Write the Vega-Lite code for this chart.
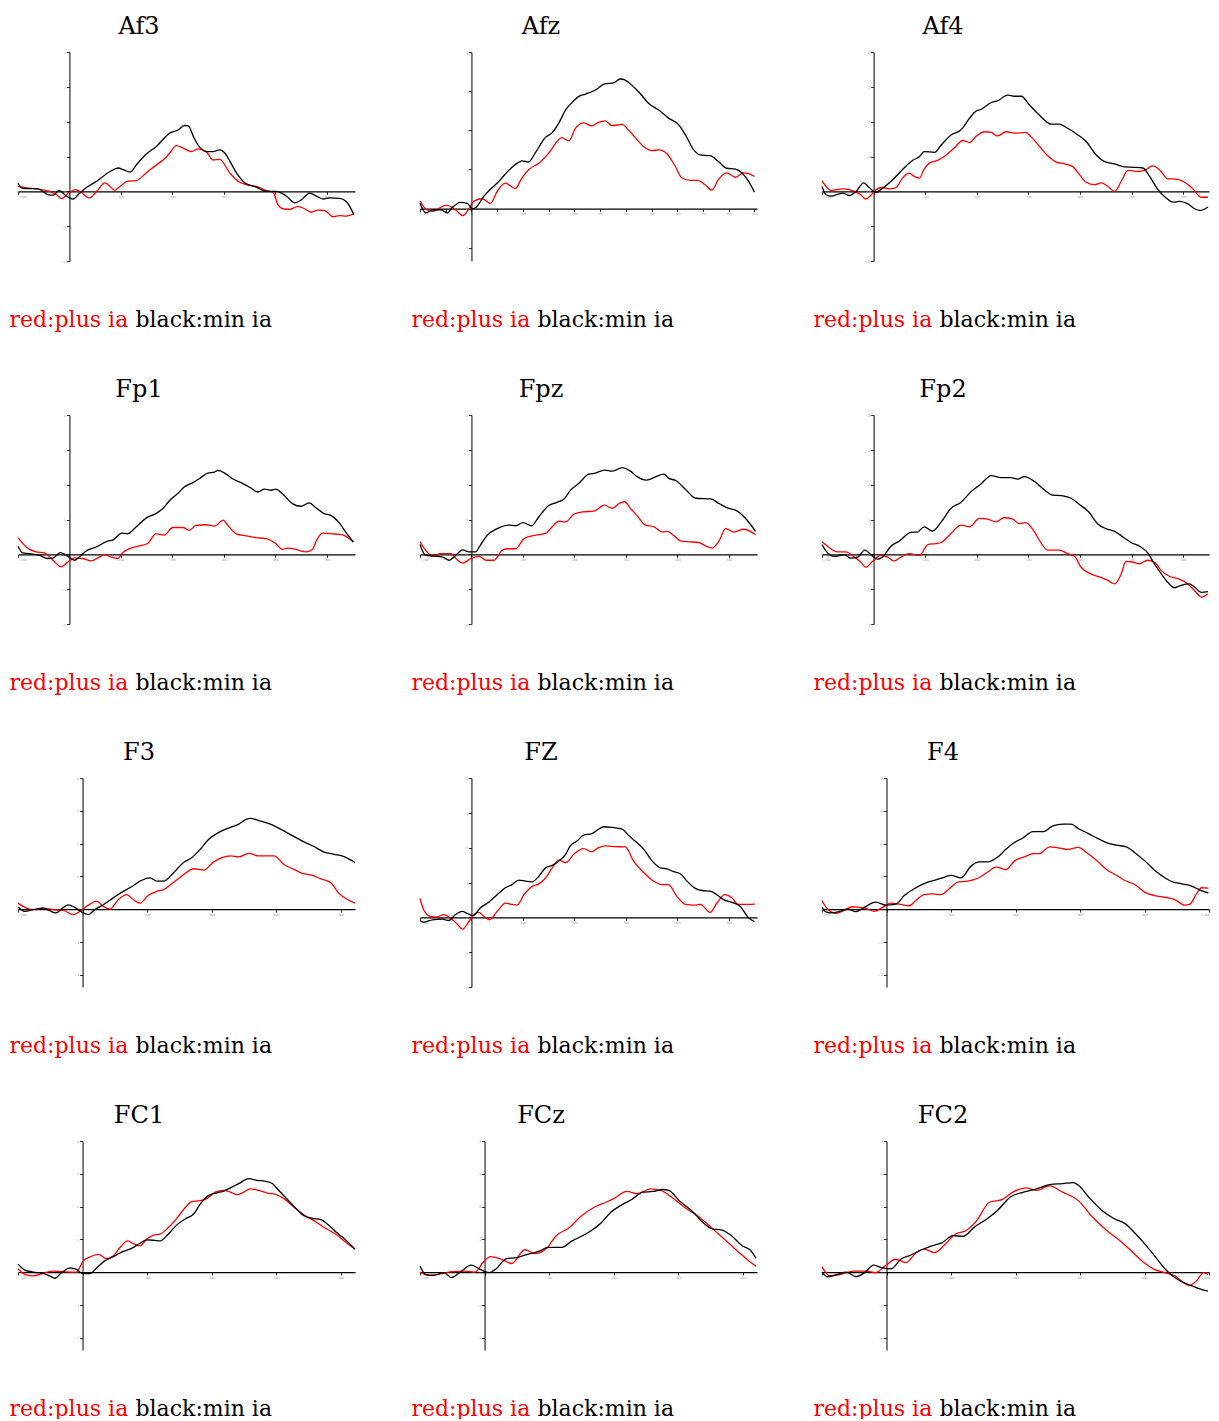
{
"$schema": "https://vega.github.io/schema/vega-lite/v6.json",
"padding": {"left": 9, "top": 15, "right": 0, "bottom": 0},
"background": "white",
"config": {
  "view": {"stroke": null},
  "title": {"anchor": "middle", "frame": "group", "dx": -47.5, "offset": 12, "baseline": "alphabetic", "font": "DejaVu Serif", "fontSize": 24, "fontWeight": "normal", "color": "#000"},
  "axis": {"grid": false, "domainColor": "#000", "tickColor": "#000", "tickSize": 3, "tickWidth": 0.8, "labelFontSize": 3, "labelColor": "#999", "labelPadding": 1, "labelFont": "DejaVu Sans",
           "titleFont": "DejaVu Serif", "titleFontSize": 22, "titleFontWeight": "normal", "titleAngle": 0, "titleAlign": "left", "titleBaseline": "alphabetic"},
  "axisX": {"domainWidth": 1.3, "titleColor": "#ff0000", "titleX": -9},
  "axisY": {"domainWidth": 1, "titleColor": "#000000", "titleY": 274},
  "legend": {"orient": "top-right", "offset": 3, "symbolType": "stroke", "symbolSize": 49, "symbolStrokeWidth": 1.5, "labelFontSize": 3, "labelColor": "#777", "padding": 0, "rowPadding": -3, "labelOffset": 1},
  "line": {"interpolate": "monotone", "strokeWidth": 1.3}
},
"data": {"values": [
{"ch":"Af3","c":"min ia","t":[-100,-93,-83,-61,-41,-31,-20,-9,7,20,33,53,79,95,105,118,130,150,169,195,211,224,231,241,250,266,279,292,302,312,325,341,363,383,402,422,438,451,467,480,493,506,525,538,553],"v":[0.24,0.1,0.08,0.07,-0.10,-0.11,0.03,-0.10,-0.22,-0.05,0.11,0.29,0.57,0.67,0.62,0.55,0.76,1.08,1.29,1.67,1.76,1.89,1.88,1.57,1.33,1.14,1.14,1.19,1.10,0.86,0.52,0.24,0.12,0,0,-0.14,-0.33,-0.24,-0.05,-0.14,-0.22,-0.19,-0.20,-0.29,-0.67]},
{"ch":"Af3","c":"plus ia","t":[-100,-83,-64,-38,-25,-15,-2,11,20,39,53,69,79,88,98,114,130,150,169,182,195,208,221,237,250,266,279,292,312,331,344,363,383,396,405,415,428,444,457,470,483,496,512,525,538,553],"v":[0.14,0.10,0.07,0,-0.10,-0.21,-0.05,0.05,0,-0.19,0,0.24,0.14,0.03,0.14,0.29,0.31,0.54,0.76,0.90,1.10,1.31,1.24,1.14,1.22,1.14,0.90,0.92,0.52,0.26,0.19,0.14,0.02,-0.03,-0.38,-0.50,-0.52,-0.43,-0.50,-0.60,-0.54,-0.55,-0.73,-0.70,-0.71,-0.65]},
{"ch":"Afz","c":"min ia","t":[-100,-89,-76,-60,-47,-38,-21,-8,3,11,24,40,53,72,89,98,111,124,144,157,170,183,195,208,221,241,260,276,289,299,312,328,344,364,383,403,416,432,445,464,480,496,513,526,539,550],"v":[0.14,-0.11,-0.04,-0.03,-0.11,0.02,0.16,0.13,-0.01,0.06,0.31,0.53,0.69,0.97,1.16,1.22,1.19,1.42,1.82,1.94,2.19,2.52,2.70,2.86,2.92,3.03,3.19,3.21,3.31,3.28,3.15,2.94,2.69,2.52,2.31,2.14,1.88,1.50,1.37,1.35,1.20,1.03,1.01,0.91,0.69,0.42]},
{"ch":"Afz","c":"plus ia","t":[-100,-89,-76,-50,-38,-28,-17,-5,5,21,37,50,66,85,98,111,131,153,166,176,189,202,218,234,247,260,273,293,305,318,335,351,364,380,396,409,425,441,454,467,480,496,513,529,539,550],"v":[0.20,-0.01,-0.07,0.08,0.04,-0.07,-0.18,-0.01,0.19,0.25,0.13,0.44,0.65,0.51,0.78,0.99,1.16,1.46,1.71,1.81,1.73,2.05,2.19,2.11,2.20,2.24,2.12,2.15,2.01,1.82,1.58,1.48,1.50,1.40,1.08,0.78,0.72,0.72,0.61,0.47,0.74,0.91,0.80,0.91,0.89,0.82]},
{"ch":"Af4","c":"min ia","t":[-100,-92,-83,-60,-47,-34,-19,-8,5,14,37,59,76,89,98,118,131,150,169,186,198,208,228,240,260,273,286,302,321,344,360,376,396,412,431,447,467,486,505,522,535,551,567,580,593,609,622,633,648],"v":[0.14,-0.10,-0.14,-0.05,-0.12,0,0.24,0.10,-0.03,0.05,0.33,0.67,0.89,1.00,1.14,1.12,1.33,1.62,1.76,2.10,2.30,2.35,2.55,2.60,2.76,2.73,2.73,2.48,2.19,1.93,1.93,1.81,1.62,1.43,1.05,0.86,0.79,0.70,0.69,0.67,0.43,0.05,-0.19,-0.31,-0.29,-0.36,-0.50,-0.55,-0.45]},
{"ch":"Af4","c":"plus ia","t":[-100,-92,-83,-60,-37,-25,-15,-5,5,17,30,43,56,69,79,89,98,108,124,137,156,173,186,198,215,228,240,257,273,295,305,321,337,354,370,386,399,412,428,441,454,467,480,493,512,525,541,554,570,586,603,619,635,648],"v":[0.31,0.14,0.03,0.07,0,-0.10,-0.22,-0.11,0.05,0.11,0.07,0.10,0.38,0.52,0.43,0.38,0.64,0.81,0.89,1.00,1.24,1.46,1.40,1.57,1.71,1.69,1.59,1.71,1.67,1.69,1.57,1.30,1.03,0.84,0.79,0.71,0.48,0.26,0.19,0.24,0.14,0,0.29,0.60,0.57,0.60,0.73,0.62,0.36,0.35,0.26,0.07,-0.17,-0.17]},
{"ch":"Fp1","c":"min ia","t":[-100,-91,-78,-58,-42,-32,-18,-6,10,19,32,52,74,84,102,113,129,149,168,181,197,210,223,240,252,269,282,288,301,317,337,353,366,379,392,401,414,434,450,466,479,495,508,524,537,552],"v":[0.23,0.04,0.02,-0.03,-0.12,-0.11,0.05,-0.03,-0.17,-0.08,0.09,0.21,0.38,0.41,0.61,0.59,0.78,1.04,1.17,1.31,1.58,1.74,1.93,2.06,2.17,2.33,2.36,2.41,2.34,2.17,2.03,1.90,1.79,1.87,1.84,1.87,1.74,1.45,1.38,1.48,1.34,1.17,1.12,0.91,0.64,0.35]},
{"ch":"Fp1","c":"plus ia","t":[-100,-84,-65,-49,-32,-16,-3,10,26,42,58,68,81,94,104,120,136,152,168,184,201,220,233,246,265,282,299,307,324,343,362,382,401,414,424,440,460,472,482,492,511,531,552],"v":[0.48,0.21,0.07,0.04,-0.17,-0.36,-0.22,-0.10,-0.12,-0.19,-0.08,-0.01,-0.08,-0.12,0.05,0.18,0.24,0.31,0.59,0.55,0.77,0.77,0.69,0.83,0.85,0.81,0.98,0.85,0.59,0.53,0.48,0.45,0.31,0.14,0.18,0.14,0.07,0.14,0.45,0.61,0.59,0.56,0.35]},
{"ch":"Fpz","c":"min ia","t":[-100,-89,-72,-56,-43,-34,-17,-5,8,18,31,50,73,86,100,117,131,151,164,180,193,209,228,241,258,274,293,309,322,340,359,374,384,397,417,436,465,481,500,513,533,552],"v":[0.28,-0.03,-0.05,-0.08,-0.17,-0.08,0.13,0.07,0.07,0.28,0.55,0.74,0.84,0.82,0.91,0.82,1.08,1.41,1.48,1.59,1.85,2.04,2.30,2.33,2.42,2.39,2.49,2.39,2.23,2.13,2.23,2.30,2.18,2.12,1.85,1.61,1.59,1.46,1.32,1.27,1.03,0.66]},
{"ch":"Fpz","c":"plus ia","t":[-100,-89,-76,-60,-40,-30,-17,-1,15,28,44,60,73,86,102,118,144,157,170,183,199,216,238,258,274,287,298,309,322,338,355,371,381,394,407,423,442,455,468,481,494,510,529,552],"v":[0.36,0.12,-0.05,0.02,0.02,-0.12,-0.25,-0.12,-0.06,-0.17,-0.17,0.12,0.16,0.16,0.45,0.53,0.60,0.79,0.95,0.93,1.15,1.22,1.24,1.41,1.32,1.46,1.51,1.32,1.11,0.84,0.79,0.64,0.66,0.53,0.38,0.36,0.34,0.24,0.18,0.38,0.74,0.64,0.72,0.57]},
{"ch":"Fp2","c":"min ia","t":[-100,-92,-76,-57,-44,-31,-17,-5,8,17,34,50,72,85,98,114,131,150,169,189,208,228,247,266,279,292,312,331,347,367,383,399,418,434,450,467,486,499,518,531,544,560,573,583,596,612,622,635,648],"v":[0.28,0.09,-0.06,-0.01,-0.11,-0.08,0.12,-0.01,-0.14,-0.08,0.24,0.38,0.63,0.64,0.79,0.67,0.93,1.32,1.49,1.80,2.02,2.26,2.20,2.20,2.16,2.23,2.09,1.85,1.70,1.68,1.61,1.43,1.20,0.88,0.74,0.66,0.47,0.34,0.21,0.05,-0.27,-0.61,-0.85,-0.96,-0.89,-0.85,-0.94,-1.09,-1.07]},
{"ch":"Fp2","c":"plus ia","t":[-100,-89,-70,-54,-37,-25,-15,-2,14,27,40,53,69,89,105,121,131,150,169,186,205,221,237,253,270,282,295,312,324,337,360,376,389,402,421,438,454,467,480,489,502,515,531,544,557,573,590,609,625,635,648],"v":[0.36,0.23,0.07,0.07,-0.08,-0.22,-0.37,-0.20,-0.03,-0.08,-0.19,-0.08,0.02,-0.03,0.28,0.31,0.34,0.60,0.84,0.79,1.03,1.01,0.93,1.05,1.01,0.88,0.91,0.64,0.34,0.12,0.12,0.02,-0.05,-0.37,-0.56,-0.65,-0.75,-0.85,-0.56,-0.20,-0.22,-0.27,-0.17,-0.22,-0.46,-0.63,-0.70,-0.85,-1.09,-1.23,-1.13]},
{"ch":"F3","c":"min ia","t":[-200,-179,-153,-122,-102,-83,-65,-45,-24,2,18,38,64,95,126,152,178,209,230,251,282,313,339,365,391,422,458,484,505,520,546,582,613,650,686,717,748,779,810,844],"v":[0.06,-0.07,-0.02,0.03,-0.05,-0.12,0,0.13,0.05,-0.12,-0.17,-0.02,0.13,0.34,0.54,0.68,0.85,0.95,0.85,0.85,1.11,1.42,1.57,1.83,2.13,2.34,2.49,2.59,2.73,2.77,2.70,2.59,2.44,2.24,2.05,1.91,1.74,1.67,1.60,1.42]},
{"ch":"F3","c":"plus ia","t":[-200,-174,-148,-122,-91,-60,-29,2,23,44,64,85,111,137,157,178,204,230,251,277,308,344,375,406,432,458,484,515,546,593,624,655,681,712,738,769,795,821,844],"v":[0.18,0.03,-0.02,0.03,-0.02,-0.04,-0.17,0.01,0.15,0.24,0.08,0,0.29,0.44,0.29,0.18,0.42,0.54,0.59,0.78,1.01,1.23,1.19,1.44,1.57,1.62,1.59,1.70,1.62,1.62,1.36,1.21,1.09,1.03,0.92,0.80,0.47,0.29,0.18]},
{"ch":"FZ","c":"min ia","t":[-100,-93,-76,-57,-44,-31,-18,-8,3,17,34,50,66,79,92,105,118,131,144,157,170,183,192,205,218,234,247,257,273,293,305,318,335,351,367,380,393,406,419,435,448,464,477,490,506,522,539,550],"v":[-0.09,-0.14,-0.07,-0.05,-0.09,0.08,0.17,0.11,0.05,0.27,0.44,0.65,0.85,0.94,1.07,1.04,1.02,1.18,1.42,1.49,1.62,1.81,2.05,2.19,2.36,2.40,2.53,2.60,2.58,2.53,2.36,2.19,1.95,1.62,1.42,1.39,1.31,1.25,1.04,0.83,0.77,0.75,0.65,0.51,0.43,0.32,-0.02,-0.12]},
{"ch":"FZ","c":"plus ia","t":[-100,-93,-80,-67,-54,-41,-28,-17,-5,5,14,24,35,50,66,79,89,102,118,131,144,157,170,183,199,218,234,247,260,280,299,315,335,354,370,383,399,416,432,445,464,477,493,506,519,535,551],"v":[0.54,0.22,0.03,0.01,0.08,-0.02,-0.19,-0.34,-0.12,0.08,0.14,0.03,-0.07,0.17,0.41,0.37,0.35,0.65,0.89,0.96,1.13,1.42,1.64,1.57,1.81,1.97,1.88,2.00,2.05,2.03,2.02,1.62,1.28,1.04,0.94,0.94,0.61,0.37,0.35,0.37,0.14,0.41,0.65,0.56,0.37,0.37,0.38]},
{"ch":"F4","c":"min ia","t":[-200,-189,-173,-147,-121,-95,-69,-33,-2,29,55,86,122,153,179,200,231,262,288,314,345,371,392,423,454,485,516,547,573,594,625,656,682,713,744,770,801,832,858,884,915,946,972,998],"v":[0.05,-0.08,-0.12,-0.08,0,-0.08,0.05,0.21,0.12,0.15,0.41,0.62,0.80,0.89,0.97,1.03,0.95,1.31,1.44,1.44,1.59,1.83,2.00,2.17,2.36,2.36,2.54,2.59,2.59,2.46,2.31,2.15,2.03,1.95,1.90,1.72,1.47,1.18,0.99,0.84,0.77,0.70,0.58,0.49]},
{"ch":"F4","c":"plus ia","t":[-200,-183,-157,-132,-106,-85,-64,-38,-12,13,39,70,91,117,143,169,195,221,252,283,314,340,371,397,428,454,474,506,532,563,594,625,651,682,713,739,770,801,832,863,894,925,941,961,977,998],"v":[0.26,0,-0.13,-0.05,0.07,0.05,0.02,-0.07,0.05,0.18,0.15,0.10,0.26,0.44,0.46,0.44,0.62,0.82,0.85,0.94,1.13,1.28,1.20,1.47,1.59,1.69,1.69,1.90,1.87,1.82,1.88,1.69,1.49,1.21,1.03,0.87,0.75,0.51,0.41,0.36,0.29,0.12,0.15,0.46,0.65,0.64]},
{"ch":"FC1","c":"min ia","t":[-200,-179,-153,-122,-102,-86,-65,-39,-19,2,23,44,69,95,126,152,178,199,220,240,266,292,318,344,365,391,417,437,458,484,515,541,567,588,608,634,660,686,712,738,764,789,815,844],"v":[0.24,0.06,0,-0.04,-0.12,-0.19,-0.02,0.13,0.08,-0.05,-0.05,0.13,0.34,0.47,0.63,0.72,0.88,0.98,0.97,0.95,1.16,1.44,1.62,1.77,2.08,2.34,2.42,2.47,2.57,2.70,2.85,2.80,2.77,2.70,2.49,2.22,1.95,1.72,1.64,1.60,1.42,1.19,0.98,0.70]},
{"ch":"FC1","c":"plus ia","t":[-200,-179,-153,-122,-91,-65,-39,-19,2,23,49,75,95,116,140,157,178,199,220,240,266,292,313,339,365,385,411,437,458,479,499,520,546,572,598,624,655,686,717,748,779,810,844],"v":[0.10,-0.07,-0.12,-0.04,0.03,0.01,0,0,0.34,0.46,0.54,0.41,0.49,0.75,0.95,0.87,0.80,1.01,1.13,1.16,1.36,1.64,1.91,2.15,2.18,2.24,2.44,2.49,2.44,2.36,2.44,2.54,2.49,2.41,2.37,2.24,1.98,1.74,1.57,1.36,1.19,0.95,0.70]},
{"ch":"FCz","c":"min ia","t":[-200,-183,-159,-126,-102,-78,-41,-13,15,36,68,100,133,165,198,238,271,319,360,392,425,457,490,522,551,571,603,644,676,708,733,765,798,822,841],"v":[0.18,-0.07,-0.10,-0.02,-0.17,-0.02,0.21,0.08,-0.02,0.10,0.41,0.44,0.54,0.62,0.75,0.75,0.95,1.19,1.49,1.83,2.05,2.22,2.44,2.46,2.52,2.49,2.18,1.85,1.52,1.31,1.29,1.11,0.80,0.68,0.42]},
{"ch":"FCz","c":"plus ia","t":[-200,-175,-143,-102,-62,-29,-5,19,52,84,125,157,190,222,263,295,344,376,400,441,473,514,546,579,619,660,708,749,789,819,841],"v":[0,-0.10,-0.07,0.01,0.03,0,0.29,0.47,0.39,0.26,0.68,0.56,0.70,1.11,1.36,1.67,2.00,2.13,2.24,2.46,2.39,2.54,2.49,2.29,1.98,1.72,1.31,0.95,0.59,0.34,0.18]},
{"ch":"FC2","c":"min ia","t":[-200,-183,-151,-126,-94,-62,-41,-13,15,44,76,109,141,173,206,238,271,311,344,384,425,465,506,546,579,595,627,668,708,741,773,806,838,870,903,943,976,997],"v":[0,-0.14,-0.07,0,-0.14,0.03,0.21,0.13,0.10,0.39,0.52,0.68,0.80,0.90,1.11,1.09,1.36,1.62,1.88,2.29,2.44,2.54,2.67,2.70,2.73,2.65,2.29,1.88,1.62,1.47,1.16,0.80,0.41,0.03,-0.23,-0.41,-0.53,-0.58]},
{"ch":"FC2","c":"plus ia","t":[-200,-175,-143,-102,-62,-34,-5,28,60,92,117,149,182,214,246,279,319,360,392,433,465,506,546,595,635,684,725,765,798,830,863,895,919,939,960,984,997],"v":[0.16,-0.12,-0.07,0.03,0.03,-0.02,0.18,0.39,0.29,0.59,0.70,0.59,0.85,1.16,1.26,1.56,2.13,2.22,2.44,2.57,2.49,2.63,2.44,2.18,1.72,1.26,0.95,0.59,0.29,0.08,-0.02,-0.12,-0.31,-0.41,-0.28,-0.02,-0.07]}
]},
"bounds": "flush",
"columns": 3,
"spacing": {"row": 154, "column": 65},
"concat": [
 {"width": 337, "height": 209, "title": "Af3",
  "encoding": {"x": {"field": "t", "type": "quantitative", "scale": {"domain": [-100, 555], "nice": false, "zero": false}, "axis": {"offset": -69.67, "values": [-100, 0, 100, 200, 300, 400, 500], "title": "red:plus ia", "titleY": 134.67}},
               "y": {"field": "v", "type": "quantitative", "scale": {"domain": [-2, 4], "nice": false, "zero": false}, "axis": {"offset": -51.45, "values": [-2, -1, 0, 1, 2, 3, 4], "title": "black:min ia", "titleX": 65.55}},
               "color": {"field": "c", "type": "nominal", "scale": {"domain": ["plus ia", "min ia"], "range": ["#ff0000", "#000000"]}, "legend": null}},
  "layer": [
   {"transform": [{"filter": "datum.ch === 'Af3' && datum.c === 'plus ia'"}, {"flatten": ["t", "v"]}], "mark": "line"},
   {"transform": [{"filter": "datum.ch === 'Af3' && datum.c === 'min ia'"}, {"flatten": ["t", "v"]}], "mark": "line"}
  ]},
 {"width": 337, "height": 209, "title": "Afz",
  "encoding": {"x": {"field": "t", "type": "quantitative", "scale": {"domain": [-100, 555], "nice": false, "zero": false}, "axis": {"offset": -52.45, "values": [-100, -50, 0, 50, 100, 150, 200, 250, 300, 350, 400, 450, 500, 550], "title": "red:plus ia", "titleY": 117.45}},
               "y": {"field": "v", "type": "quantitative", "scale": {"domain": [-1.34, 4], "nice": false, "zero": false}, "axis": {"offset": -51.45, "values": [-1, 0, 1, 2, 3, 4], "title": "black:min ia", "titleX": 65.55}},
               "color": {"field": "c", "type": "nominal", "scale": {"domain": ["plus ia", "min ia"], "range": ["#ff0000", "#000000"]}, "legend": null}},
  "layer": [
   {"transform": [{"filter": "datum.ch === 'Afz' && datum.c === 'plus ia'"}, {"flatten": ["t", "v"]}], "mark": "line"},
   {"transform": [{"filter": "datum.ch === 'Afz' && datum.c === 'min ia'"}, {"flatten": ["t", "v"]}], "mark": "line"}
  ]},
 {"width": 387, "height": 209, "title": {"text": "Af4", "dx": -72.5},
  "encoding": {"x": {"field": "t", "type": "quantitative", "scale": {"domain": [-100, 650], "nice": false, "zero": false}, "axis": {"offset": -69.67, "values": [-100, 0, 100, 200, 300, 400, 500, 600], "title": "red:plus ia", "titleY": 134.67}},
               "y": {"field": "v", "type": "quantitative", "scale": {"domain": [-2, 4], "nice": false, "zero": false}, "axis": {"offset": -51.6, "values": [-2, -1, 0, 1, 2, 3, 4], "title": "black:min ia", "titleX": 65.4}},
               "color": {"field": "c", "type": "nominal", "scale": {"domain": ["plus ia", "min ia"], "range": ["#ff0000", "#000000"]}, "legend": {"title": null}}},
  "layer": [
   {"transform": [{"filter": "datum.ch === 'Af4' && datum.c === 'plus ia'"}, {"flatten": ["t", "v"]}], "mark": "line"},
   {"transform": [{"filter": "datum.ch === 'Af4' && datum.c === 'min ia'"}, {"flatten": ["t", "v"]}], "mark": "line"}
  ]},
 {"width": 337, "height": 209, "title": "Fp1",
  "encoding": {"x": {"field": "t", "type": "quantitative", "scale": {"domain": [-100, 555], "nice": false, "zero": false}, "axis": {"offset": -69.67, "values": [-100, 0, 100, 200, 300, 400, 500], "title": "red:plus ia", "titleY": 134.67}},
               "y": {"field": "v", "type": "quantitative", "scale": {"domain": [-2, 4], "nice": false, "zero": false}, "axis": {"offset": -51.45, "values": [-2, -1, 0, 1, 2, 3, 4], "title": "black:min ia", "titleX": 65.55}},
               "color": {"field": "c", "type": "nominal", "scale": {"domain": ["plus ia", "min ia"], "range": ["#ff0000", "#000000"]}, "legend": null}},
  "layer": [
   {"transform": [{"filter": "datum.ch === 'Fp1' && datum.c === 'plus ia'"}, {"flatten": ["t", "v"]}], "mark": "line"},
   {"transform": [{"filter": "datum.ch === 'Fp1' && datum.c === 'min ia'"}, {"flatten": ["t", "v"]}], "mark": "line"}
  ]},
 {"width": 337, "height": 209, "title": "Fpz",
  "encoding": {"x": {"field": "t", "type": "quantitative", "scale": {"domain": [-100, 555], "nice": false, "zero": false}, "axis": {"offset": -69.67, "values": [-100, 0, 100, 200, 300, 400, 500], "title": "red:plus ia", "titleY": 134.67}},
               "y": {"field": "v", "type": "quantitative", "scale": {"domain": [-2, 4], "nice": false, "zero": false}, "axis": {"offset": -51.45, "values": [-2, -1, 0, 1, 2, 3, 4], "title": "black:min ia", "titleX": 65.55}},
               "color": {"field": "c", "type": "nominal", "scale": {"domain": ["plus ia", "min ia"], "range": ["#ff0000", "#000000"]}, "legend": null}},
  "layer": [
   {"transform": [{"filter": "datum.ch === 'Fpz' && datum.c === 'plus ia'"}, {"flatten": ["t", "v"]}], "mark": "line"},
   {"transform": [{"filter": "datum.ch === 'Fpz' && datum.c === 'min ia'"}, {"flatten": ["t", "v"]}], "mark": "line"}
  ]},
 {"width": 387, "height": 209, "title": {"text": "Fp2", "dx": -72.5},
  "encoding": {"x": {"field": "t", "type": "quantitative", "scale": {"domain": [-100, 650], "nice": false, "zero": false}, "axis": {"offset": -69.67, "values": [-100, 0, 100, 200, 300, 400, 500, 600], "title": "red:plus ia", "titleY": 134.67}},
               "y": {"field": "v", "type": "quantitative", "scale": {"domain": [-2, 4], "nice": false, "zero": false}, "axis": {"offset": -51.6, "values": [-2, -1, 0, 1, 2, 3, 4], "title": "black:min ia", "titleX": 65.4}},
               "color": {"field": "c", "type": "nominal", "scale": {"domain": ["plus ia", "min ia"], "range": ["#ff0000", "#000000"]}, "legend": {"title": null}}},
  "layer": [
   {"transform": [{"filter": "datum.ch === 'Fp2' && datum.c === 'plus ia'"}, {"flatten": ["t", "v"]}], "mark": "line"},
   {"transform": [{"filter": "datum.ch === 'Fp2' && datum.c === 'min ia'"}, {"flatten": ["t", "v"]}], "mark": "line"}
  ]},
 {"width": 337, "height": 209, "title": "F3",
  "encoding": {"x": {"field": "t", "type": "quantitative", "scale": {"domain": [-200, 844], "nice": false, "zero": false}, "axis": {"offset": -77.97, "values": [-200, 0, 200, 400, 600, 800], "title": "red:plus ia", "titleY": 142.97}},
               "y": {"field": "v", "type": "quantitative", "scale": {"domain": [-2.38, 4], "nice": false, "zero": false}, "axis": {"offset": -64.56, "values": [-2, -1, 0, 1, 2, 3, 4], "title": "black:min ia", "titleX": 52.44}},
               "color": {"field": "c", "type": "nominal", "scale": {"domain": ["plus ia", "min ia"], "range": ["#ff0000", "#000000"]}, "legend": null}},
  "layer": [
   {"transform": [{"filter": "datum.ch === 'F3' && datum.c === 'plus ia'"}, {"flatten": ["t", "v"]}], "mark": "line"},
   {"transform": [{"filter": "datum.ch === 'F3' && datum.c === 'min ia'"}, {"flatten": ["t", "v"]}], "mark": "line"}
  ]},
 {"width": 337, "height": 209, "title": "FZ",
  "encoding": {"x": {"field": "t", "type": "quantitative", "scale": {"domain": [-100, 555], "nice": false, "zero": false}, "axis": {"offset": -69.67, "values": [-100, 0, 100, 200, 300, 400, 500], "title": "red:plus ia", "titleY": 134.67}},
               "y": {"field": "v", "type": "quantitative", "scale": {"domain": [-2, 4], "nice": false, "zero": false}, "axis": {"offset": -51.45, "values": [-2, -1, 0, 1, 2, 3, 4], "title": "black:min ia", "titleX": 65.55}},
               "color": {"field": "c", "type": "nominal", "scale": {"domain": ["plus ia", "min ia"], "range": ["#ff0000", "#000000"]}, "legend": null}},
  "layer": [
   {"transform": [{"filter": "datum.ch === 'FZ' && datum.c === 'plus ia'"}, {"flatten": ["t", "v"]}], "mark": "line"},
   {"transform": [{"filter": "datum.ch === 'FZ' && datum.c === 'min ia'"}, {"flatten": ["t", "v"]}], "mark": "line"}
  ]},
 {"width": 387, "height": 209, "title": {"text": "F4", "dx": -72.5},
  "encoding": {"x": {"field": "t", "type": "quantitative", "scale": {"domain": [-200, 1000], "nice": false, "zero": false}, "axis": {"offset": -77.97, "values": [-200, 0, 200, 400, 600, 800, 1000], "title": "red:plus ia", "titleY": 142.97}},
               "y": {"field": "v", "type": "quantitative", "scale": {"domain": [-2.38, 4], "nice": false, "zero": false}, "axis": {"offset": -64.5, "values": [-2, -1, 0, 1, 2, 3, 4], "title": "black:min ia", "titleX": 52.5}},
               "color": {"field": "c", "type": "nominal", "scale": {"domain": ["plus ia", "min ia"], "range": ["#ff0000", "#000000"]}, "legend": {"title": null}}},
  "layer": [
   {"transform": [{"filter": "datum.ch === 'F4' && datum.c === 'plus ia'"}, {"flatten": ["t", "v"]}], "mark": "line"},
   {"transform": [{"filter": "datum.ch === 'F4' && datum.c === 'min ia'"}, {"flatten": ["t", "v"]}], "mark": "line"}
  ]},
 {"width": 337, "height": 209, "title": "FC1",
  "encoding": {"x": {"field": "t", "type": "quantitative", "scale": {"domain": [-200, 844], "nice": false, "zero": false}, "axis": {"offset": -77.97, "values": [-200, 0, 200, 400, 600, 800], "title": "red:plus ia", "titleY": 142.97}},
               "y": {"field": "v", "type": "quantitative", "scale": {"domain": [-2.38, 4], "nice": false, "zero": false}, "axis": {"offset": -64.56, "values": [-2, -1, 0, 1, 2, 3, 4], "title": "black:min ia", "titleX": 52.44}},
               "color": {"field": "c", "type": "nominal", "scale": {"domain": ["plus ia", "min ia"], "range": ["#ff0000", "#000000"]}, "legend": null}},
  "layer": [
   {"transform": [{"filter": "datum.ch === 'FC1' && datum.c === 'plus ia'"}, {"flatten": ["t", "v"]}], "mark": "line"},
   {"transform": [{"filter": "datum.ch === 'FC1' && datum.c === 'min ia'"}, {"flatten": ["t", "v"]}], "mark": "line"}
  ]},
 {"width": 337, "height": 209, "title": "FCz",
  "encoding": {"x": {"field": "t", "type": "quantitative", "scale": {"domain": [-200, 844], "nice": false, "zero": false}, "axis": {"offset": -77.97, "values": [-200, 0, 200, 400, 600, 800], "title": "red:plus ia", "titleY": 142.97}},
               "y": {"field": "v", "type": "quantitative", "scale": {"domain": [-2.38, 4], "nice": false, "zero": false}, "axis": {"offset": -64.56, "values": [-2, -1, 0, 1, 2, 3, 4], "title": "black:min ia", "titleX": 52.44}},
               "color": {"field": "c", "type": "nominal", "scale": {"domain": ["plus ia", "min ia"], "range": ["#ff0000", "#000000"]}, "legend": null}},
  "layer": [
   {"transform": [{"filter": "datum.ch === 'FCz' && datum.c === 'plus ia'"}, {"flatten": ["t", "v"]}], "mark": "line"},
   {"transform": [{"filter": "datum.ch === 'FCz' && datum.c === 'min ia'"}, {"flatten": ["t", "v"]}], "mark": "line"}
  ]},
 {"width": 387, "height": 209, "title": {"text": "FC2", "dx": -72.5},
  "encoding": {"x": {"field": "t", "type": "quantitative", "scale": {"domain": [-200, 1000], "nice": false, "zero": false}, "axis": {"offset": -77.97, "values": [-200, 0, 200, 400, 600, 800, 1000], "title": "red:plus ia", "titleY": 142.97}},
               "y": {"field": "v", "type": "quantitative", "scale": {"domain": [-2.38, 4], "nice": false, "zero": false}, "axis": {"offset": -64.5, "values": [-2, -1, 0, 1, 2, 3, 4], "title": "black:min ia", "titleX": 52.5}},
               "color": {"field": "c", "type": "nominal", "scale": {"domain": ["plus ia", "min ia"], "range": ["#ff0000", "#000000"]}, "legend": {"title": null}}},
  "layer": [
   {"transform": [{"filter": "datum.ch === 'FC2' && datum.c === 'plus ia'"}, {"flatten": ["t", "v"]}], "mark": "line"},
   {"transform": [{"filter": "datum.ch === 'FC2' && datum.c === 'min ia'"}, {"flatten": ["t", "v"]}], "mark": "line"}
  ]}
]
}
